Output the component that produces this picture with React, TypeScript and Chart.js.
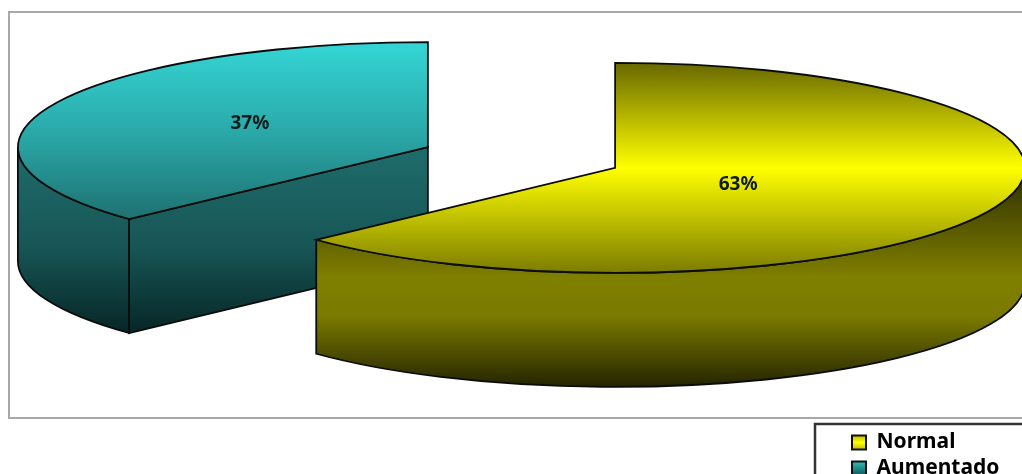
import React, { useEffect, useRef } from "react";
import { Chart, PieController, registerables } from "chart.js";

const categories = ["Normal", "Aumentado"];
const shares = [63, 37];

// Projection of the flat pie onto the tilted disc
const RADIUS = 410;
const SQUASH = 105 / 410;
const DEPTH = 114;
const EXPLODE = 102;
const DISC_X = 521.5;
const DISC_Y = 157.5;

// Percentage text position relative to each slice's centre
const labelNudgeX = [123, -178];
const labelNudgeY = [17, -24];

const topStops = [
  [[0, "#686800"], [0.5, "#ffff00"], [1, "#7c7c00"]],
  [[0, "#34d6d6"], [0.45, "#2aa6a6"], [1, "#1a5c5c"]],
];
const wallStops = [
  [[0, "#2c2c00"], [0.5, "#7f7f00"], [0.68, "#7a7a00"], [1, "#242400"]],
  [[0, "#1f6c6c"], [0.45, "#185656"], [1, "#001414"]],
];
const swatchStops = [
  [[0, "#b8b800"], [0.5, "#ffff00"], [1, "#b8b800"]],
  [[0, "#34d0d0"], [1, "#156060"]],
];
const swatchRows = [
  [435, 450],
  [459, 474],
];

const fillGradient = (
  ctx: CanvasRenderingContext2D,
  y0: number,
  y1: number,
  stops: any[],
) => {
  const g = ctx.createLinearGradient(0, y0, 0, y1);
  stops.forEach(([at, color]) => g.addColorStop(at, color));
  return g;
};

const sliceCentre = (arc: any) => {
  const mid = (arc.startAngle + arc.endAngle) / 2;
  return {
    x: DISC_X + Math.cos(mid) * EXPLODE,
    y: DISC_Y + Math.sin(mid) * EXPLODE * SQUASH,
  };
};

// Pie whose slices are pulled apart and flattened onto the tilted disc
class TiltedPieController extends (PieController as any) {
  static id = "tiltedPie";
  static defaults = (PieController as any).defaults;
  static overrides = (PieController as any).overrides;

  draw() {
    const chart = (this as any).chart;
    const ctx = chart.ctx;
    (this as any)._cachedMeta.data.forEach((arc: any) => {
      const c = sliceCentre(arc);
      ctx.save();
      ctx.translate(c.x - arc.x, c.y - arc.y * SQUASH);
      ctx.scale(1, SQUASH);
      arc.draw(ctx, chart.chartArea);
      ctx.restore();
    });
  }
}

Chart.register(...registerables, TiltedPieController as any);

// Outer rim wall plus whichever cut faces turn toward the viewer
const drawWalls = (ctx: CanvasRenderingContext2D, arc: any, index: number) => {
  const c = sliceCentre(arc);
  const ry = RADIUS * SQUASH;
  const paint = (trace: () => void) => {
    ctx.beginPath();
    trace();
    ctx.closePath();
    ctx.fillStyle = fillGradient(ctx, c.y, c.y + ry + DEPTH, wallStops[index]);
    ctx.fill();
    ctx.strokeStyle = "#0c0c0c";
    ctx.lineWidth = 1.8;
    ctx.stroke();
  };

  const cuts: [number, number][] = [
    [arc.startAngle, arc.startAngle - Math.PI / 2],
    [arc.endAngle, arc.endAngle + Math.PI / 2],
  ];
  cuts.forEach(([angle, normal]) => {
    if (Math.sin(normal) <= 0.01) return;
    const px = c.x + Math.cos(angle) * RADIUS;
    const py = c.y + Math.sin(angle) * ry;
    paint(() => {
      ctx.moveTo(c.x, c.y);
      ctx.lineTo(px, py);
      ctx.lineTo(px, py + DEPTH);
      ctx.lineTo(c.x, c.y + DEPTH);
    });
  });

  const from = Math.max(arc.startAngle, 0);
  const to = Math.min(arc.endAngle, Math.PI);
  if (to > from) {
    paint(() => {
      ctx.ellipse(c.x, c.y, RADIUS, ry, 0, from, to);
      ctx.ellipse(c.x, c.y + DEPTH, RADIUS, ry, 0, to, from, true);
    });
  }
};

const tiltedPie = {
  id: "tiltedPieDecor",
  beforeDraw(chart: any) {
    const { ctx, width, height } = chart;
    ctx.save();
    ctx.fillStyle = "#ffffff";
    ctx.fillRect(0, 0, width, height);
    ctx.strokeStyle = "#a8a8a8";
    ctx.lineWidth = 2;
    ctx.strokeRect(9, 12, 1030, 406);
    ctx.strokeStyle = "#333333";
    ctx.lineWidth = 2.5;
    ctx.strokeRect(815, 424, 300, 120);
    ctx.restore();
  },
  afterLayout(chart: any) {
    const legend = chart.legend;
    legend.left = 847;
    legend.right = 1022;
    legend.top = 427;
    legend.bottom = 700;
  },
  beforeDatasetsDraw(chart: any) {
    const { ctx } = chart;
    const arcs = chart.getDatasetMeta(0).data;
    ctx.save();
    for (let i = arcs.length - 1; i >= 0; i--) drawWalls(ctx, arcs[i], i);
    ctx.restore();
  },
  afterDatasetsDraw(chart: any) {
    const { ctx } = chart;
    const arcs = chart.getDatasetMeta(0).data;
    ctx.save();
    arcs.forEach((arc: any, i: number) => {
      const c = sliceCentre(arc);
      ctx.beginPath();
      ctx.moveTo(c.x, c.y);
      ctx.ellipse(c.x, c.y, RADIUS, RADIUS * SQUASH, 0, arc.startAngle, arc.endAngle);
      ctx.closePath();
      ctx.strokeStyle = "#0c0c0c";
      ctx.lineWidth = 1.8;
      ctx.stroke();

      ctx.fillStyle = "#0e1c1c";
      ctx.font = 'bold 19px "Noto Sans"';
      ctx.textAlign = "center";
      ctx.textBaseline = "middle";
      ctx.fillText(`${shares[i]}%`, c.x + labelNudgeX[i], c.y + labelNudgeY[i]);
    });
    ctx.restore();
  },
};

export default function App() {
  const ref = useRef<HTMLCanvasElement>(null);

  useEffect(() => {
    document.body.style.margin = "0";
    const canvas = ref.current!;
    const chart = new Chart(canvas, {
      type: "tiltedPie" as any,
      data: {
        labels: categories,
        datasets: [
          {
            data: shares,
            clip: false,
            borderWidth: 0,
            backgroundColor: (c: any) => {
              const area = c.chart.chartArea;
              const mid = area ? (area.top + area.bottom) / 2 : 0;
              return fillGradient(
                c.chart.ctx,
                mid - RADIUS,
                mid + RADIUS,
                topStops[c.dataIndex],
              );
            },
          } as any,
        ],
      },
      options: {
        animation: false,
        responsive: false,
        radius: RADIUS,
        events: [],
        plugins: {
          tooltip: { enabled: false },
          legend: {
            position: "right",
            align: "start",
            labels: {
              boxWidth: 14,
              boxHeight: 14,
              padding: 5,
              color: "#111111",
              font: { family: '"Noto Sans"', size: 21, weight: "bold" },
              generateLabels: (c: any) =>
                categories.map((text, i) => ({
                  text,
                  index: i,
                  fillStyle: fillGradient(
                    c.ctx,
                    swatchRows[i][0],
                    swatchRows[i][1],
                    swatchStops[i],
                  ),
                  strokeStyle: "#111111",
                  lineWidth: 2,
                })),
            },
          },
        },
      } as any,
      plugins: [tiltedPie],
    });
    return () => chart.destroy();
  }, []);

  return (
    <div style={{ width: 1022, height: 474, overflow: "hidden" }}>
      <canvas ref={ref} width={1022} height={474} style={{ display: "block" }} />
    </div>
  );
}
